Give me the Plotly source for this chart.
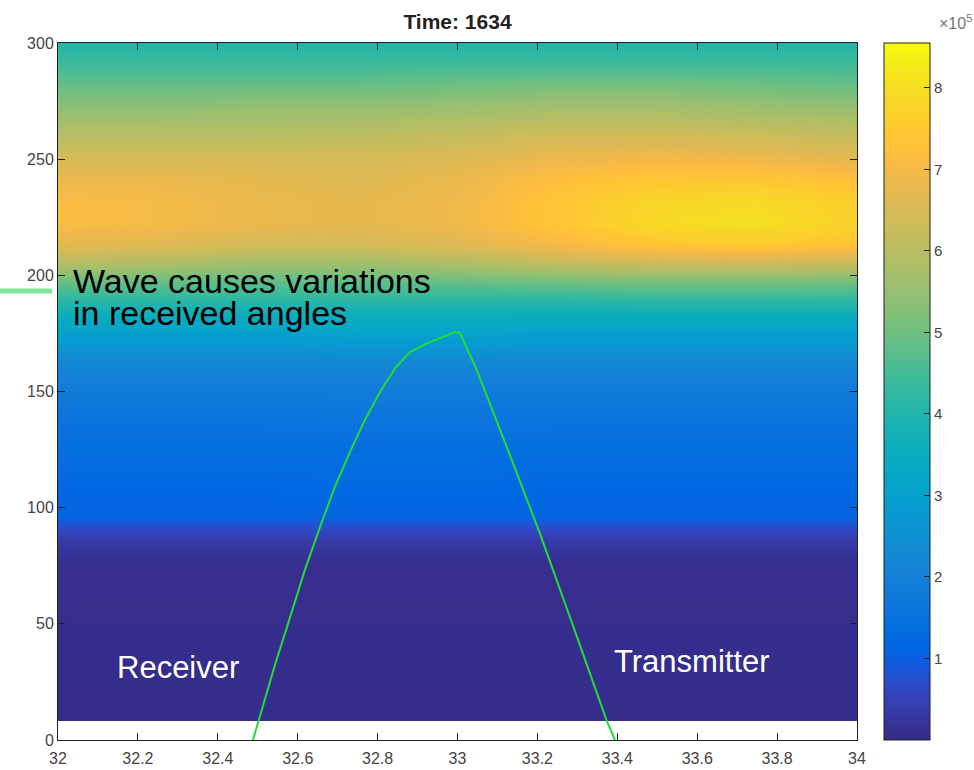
import plotly.graph_objects as go

# ---- data ----
x_cols = [32.0, 32.25, 32.5, 32.75, 33.0, 33.25, 33.5, 33.75, 34.0]
y_rows = [8.5, 9.1, 76, 86, 92, 97, 110, 125, 140, 155, 165, 175, 183, 190, 197,
          205, 213, 222, 232, 242, 252, 262, 272, 282, 292, 300]
# values in units of 1e5
z_rows = [
    [0.05] * 9,
    [0.05] * 9,
    [0.08] * 9,
    [0.35] * 9,
    [0.75] * 9,
    [1.10] * 9,
    [1.20, 1.20, 1.20, 1.25, 1.25, 1.20, 1.20, 1.20, 1.20],
    [1.40] * 9,
    [1.60, 1.60, 1.60, 1.65, 1.65, 1.60, 1.60, 1.60, 1.60],
    [1.95] * 9,
    [2.40] * 9,
    [3.00, 3.00, 3.00, 3.10, 3.10, 3.00, 3.00, 3.00, 3.00],
    [3.60] * 9,
    [4.20, 4.20, 4.20, 4.20, 4.20, 4.20, 4.30, 4.30, 4.30],
    [4.90, 4.90, 4.80, 4.80, 4.90, 5.00, 5.10, 5.10, 5.00],
    [5.90, 5.80, 5.60, 5.60, 5.80, 6.10, 6.30, 6.30, 6.20],
    [6.70, 6.60, 6.40, 6.40, 6.60, 7.00, 7.40, 7.50, 7.30],
    [7.10, 7.00, 6.80, 6.70, 6.90, 7.40, 7.90, 8.00, 7.70],
    [7.10, 7.00, 6.80, 6.70, 6.90, 7.40, 7.80, 7.90, 7.60],
    [6.80, 6.80, 6.70, 6.60, 6.80, 7.20, 7.40, 7.40, 7.20],
    [6.40, 6.40, 6.40, 6.40, 6.50, 6.80, 6.90, 6.80, 6.60],
    [5.90, 5.90, 5.90, 6.00, 6.10, 6.30, 6.30, 6.20, 6.10],
    [5.40, 5.40, 5.50, 5.50, 5.60, 5.70, 5.70, 5.60, 5.50],
    [4.90, 4.90, 4.90, 4.90, 5.00, 5.10, 5.10, 5.00, 4.90],
    [4.40] * 9,
    [4.05] * 9,
]
scale = 1e5
z_min, z_max = 0.0, 8.55

curve_x = [32.488, 32.511, 32.543, 32.581, 32.618, 32.656, 32.693, 32.731,
           32.768, 32.806, 32.844, 32.881, 32.919, 32.956, 32.994, 33.006,
           33.048, 33.123, 33.206, 33.290, 33.373, 33.394]
curve_y = [0, 13.8, 32.3, 52.9, 73.2, 91.7, 108.9, 124.0,
           137.7, 149.8, 160.1, 167.0, 170.4, 173.0, 175.6, 175.2,
           159.3, 126.3, 89.0, 48.8, 8.6, 0]

x_ticks = [32, 32.2, 32.4, 32.6, 32.8, 33, 33.2, 33.4, 33.6, 33.8, 34]
x_ticktext = ["32", "32.2", "32.4", "32.6", "32.8", "33", "33.2", "33.4", "33.6", "33.8", "34"]
y_ticks = [0, 50, 100, 150, 200, 250, 300]
cb_ticks = [1, 2, 3, 4, 5, 6, 7, 8]

# MATLAB parula(64) colour map
parula_rgb = [
    (0.2081, 0.1663, 0.5292), (0.2116, 0.1898, 0.5777), (0.2123, 0.2138, 0.6270),
    (0.2081, 0.2386, 0.6771), (0.1959, 0.2645, 0.7279), (0.1707, 0.2919, 0.7792),
    (0.1253, 0.3242, 0.8303), (0.0591, 0.3598, 0.8683), (0.0117, 0.3875, 0.8820),
    (0.0060, 0.4086, 0.8828), (0.0165, 0.4266, 0.8786), (0.0329, 0.4430, 0.8720),
    (0.0498, 0.4586, 0.8641), (0.0629, 0.4737, 0.8554), (0.0723, 0.4887, 0.8467),
    (0.0779, 0.5040, 0.8384), (0.0793, 0.5200, 0.8312), (0.0749, 0.5375, 0.8263),
    (0.0641, 0.5570, 0.8240), (0.0488, 0.5772, 0.8228), (0.0343, 0.5966, 0.8199),
    (0.0265, 0.6137, 0.8135), (0.0239, 0.6287, 0.8038), (0.0231, 0.6418, 0.7913),
    (0.0228, 0.6535, 0.7768), (0.0267, 0.6642, 0.7607), (0.0384, 0.6743, 0.7436),
    (0.0590, 0.6838, 0.7254), (0.0843, 0.6928, 0.7062), (0.1133, 0.7015, 0.6859),
    (0.1453, 0.7098, 0.6646), (0.1801, 0.7177, 0.6424), (0.2178, 0.7250, 0.6193),
    (0.2586, 0.7317, 0.5954), (0.3022, 0.7376, 0.5712), (0.3482, 0.7424, 0.5473),
    (0.3953, 0.7459, 0.5244), (0.4420, 0.7481, 0.5033), (0.4871, 0.7491, 0.4840),
    (0.5300, 0.7491, 0.4661), (0.5709, 0.7485, 0.4494), (0.6099, 0.7473, 0.4337),
    (0.6473, 0.7456, 0.4188), (0.6834, 0.7435, 0.4044), (0.7184, 0.7411, 0.3905),
    (0.7525, 0.7384, 0.3768), (0.7858, 0.7356, 0.3633), (0.8185, 0.7327, 0.3498),
    (0.8507, 0.7299, 0.3360), (0.8824, 0.7274, 0.3217), (0.9139, 0.7258, 0.3063),
    (0.9450, 0.7261, 0.2886), (0.9739, 0.7314, 0.2666), (0.9938, 0.7455, 0.2403),
    (0.9990, 0.7653, 0.2164), (0.9955, 0.7861, 0.1967), (0.9880, 0.8066, 0.1794),
    (0.9789, 0.8271, 0.1633), (0.9697, 0.8481, 0.1475), (0.9626, 0.8705, 0.1309),
    (0.9589, 0.8949, 0.1132), (0.9598, 0.9218, 0.0948), (0.9661, 0.9514, 0.0755),
    (0.9763, 0.9831, 0.0538),
]
n = len(parula_rgb)
parula = [[i / (n - 1), "rgb(%d,%d,%d)" % tuple(round(c * 255) for c in rgb)]
          for i, rgb in enumerate(parula_rgb)]

FONT = "Liberation Sans, Arial, Helvetica, sans-serif"
TICKC = "#444444"

fig = go.Figure()
fig.add_trace(go.Heatmap(
    x=x_cols, y=y_rows,
    z=[[v * scale for v in r] for r in z_rows],
    zmin=z_min * scale, zmax=z_max * scale,
    colorscale=parula, zsmooth="best", hoverinfo="skip",
    colorbar=dict(
        x=(884 - 58) / 799, xanchor="left", xpad=0, ypad=0,
        y=0.5, yanchor="middle", len=1, lenmode="fraction",
        thickness=46, thicknessmode="pixels",
        outlinewidth=1, outlinecolor="#222",
        tickvals=[v * scale for v in cb_ticks],
        ticktext=[str(v) for v in cb_ticks],
        ticks="inside", ticklen=6, tickcolor="#222",
        tickfont=dict(family=FONT, size=15, color=TICKC),
    ),
))
fig.add_trace(go.Scatter(
    x=curve_x, y=curve_y, mode="lines",
    line=dict(color="#22dd33", width=2), hoverinfo="skip", showlegend=False,
))

axis_common = dict(
    showgrid=False, zeroline=False, showline=True, linecolor="#222", linewidth=1,
    mirror="ticks", ticks="inside", ticklen=7, tickcolor="#222", automargin=False,
    tickfont=dict(family=FONT, size=16, color=TICKC),
)
fig.update_layout(
    width=974, height=770, autosize=False,
    margin=dict(l=58, r=117, t=43, b=30),
    paper_bgcolor="white", plot_bgcolor="white",
    showlegend=False,
    title=dict(text="<b>Time: 1634</b>", x=(58 + 857) / 2 / 974, xanchor="center",
               y=1 - 22 / 770, yanchor="middle",
               font=dict(family=FONT, size=21, color="#222")),
    xaxis=dict(range=[32, 34], tickvals=x_ticks, ticktext=x_ticktext,
               ticklabelstandoff=4, **axis_common),
    yaxis=dict(range=[0, 300], tickvals=y_ticks, **axis_common),
)

fig.add_annotation(text="Wave causes variations", x=32.033, y=197.6, xref="x", yref="y",
                   xanchor="left", yanchor="middle", showarrow=False,
                   font=dict(family=FONT, size=34, color="black"))
fig.add_annotation(text="in received angles", x=32.033, y=183.8, xref="x", yref="y",
                   xanchor="left", yanchor="middle", showarrow=False,
                   font=dict(family=FONT, size=34, color="black"))
fig.add_annotation(text="Receiver", x=32.142, y=31.4, xref="x", yref="y",
                   xanchor="left", yanchor="middle", showarrow=False,
                   font=dict(family=FONT, size=31, color="white"))
fig.add_annotation(text="Transmitter", x=33.386, y=33.6, xref="x", yref="y",
                   xanchor="left", yanchor="middle", showarrow=False,
                   font=dict(family=FONT, size=31, color="white"))
fig.add_annotation(text="×10<sup>5</sup>", x=(955 - 58) / 799, y=(740 - 22) / 697,
                   xref="paper", yref="paper", xanchor="center", yanchor="middle",
                   showarrow=False, font=dict(family=FONT, size=16, color="#777"))

fig.add_shape(type="line", xref="paper", yref="y",
              x0=-58 / 799, x1=-6 / 799, y0=193.3, y1=193.3,
              line=dict(color="#80e89a", width=5))

fig.write_html("out.html")
